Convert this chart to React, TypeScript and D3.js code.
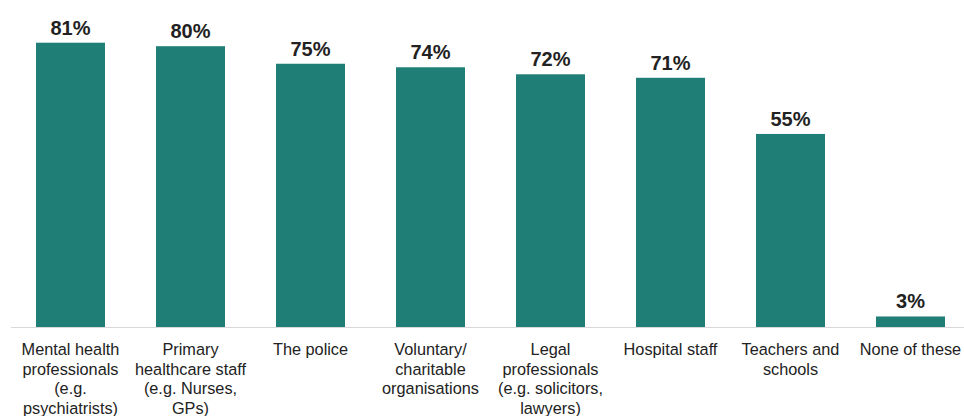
import React from "react";
import * as d3 from "d3";

const categories = [
  ["Mental health", "professionals", "(e.g.", "psychiatrists)"],
  ["Primary", "healthcare staff", "(e.g. Nurses,", "GPs)"],
  ["The police"],
  ["Voluntary/", "charitable", "organisations"],
  ["Legal", "professionals", "(e.g. solicitors,", "lawyers)"],
  ["Hospital staff"],
  ["Teachers and", "schools"],
  ["None of these"],
];
const values = [81, 80, 75, 74, 72, 71, 55, 3];

const W = 964;
const H = 416;
const baseY = 327;

export default function App() {
  const keys = categories.map((_, i) => String(i));
  const x = d3.scaleBand().domain(keys).range([10.5, 970.5]).paddingInner(0.425).paddingOuter(0.2125);
  const y = d3.scaleLinear().domain([0, 100]).range([baseY, baseY - 351]);
  return (
    <svg width={W} height={H} style={{ position: "absolute", left: 0, top: 0 }}>
      <rect width={W} height={H} fill="#fff" />
      {values.map((v, i) => (
        <g key={i}>
          <rect x={x(keys[i])!} y={y(v)} width={x.bandwidth()} height={baseY - y(v)} fill="#1f7f77" />
          <text x={x(keys[i])! + x.bandwidth() / 2} y={y(v) - 8} textAnchor="middle"
            fontFamily="Liberation Sans, Arial, sans-serif" fontWeight="bold" fontSize={20} fill="#222">
            {v}%
          </text>
        </g>
      ))}
      <line x1={11} x2={W} y1={baseY + 0.5} y2={baseY + 0.5} stroke="#d9d9d9" strokeWidth={1} />
      {categories.map((lines, i) => (
        <text key={i} x={x(keys[i])! + x.bandwidth() / 2} textAnchor="middle"
          fontFamily="Liberation Sans, Arial, sans-serif" fontSize={16.3} fill="#222">
          {lines.map((l, j) => (
            <tspan key={j} x={x(keys[i])! + x.bandwidth() / 2} y={355 + j * 19.5}>{l}</tspan>
          ))}
        </text>
      ))}
    </svg>
  );
}
